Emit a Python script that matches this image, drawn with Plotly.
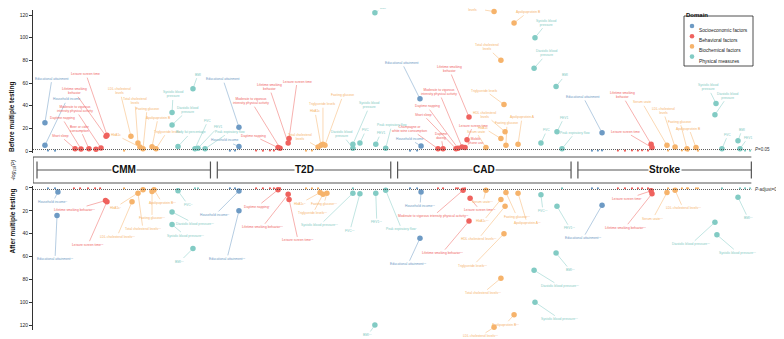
import plotly.graph_objects as go

W, H = 784, 339
PAGE_MARGIN = 8          # browser body margin around the figure

OUTCOMES = ["CMM", "T2D", "CAD", "Stroke"]
DOMAINS = ["Socioeconomic factors", "Behavioral factors", "Biochemical factors", "Physical measures"]
COLORS = ["#6D9AC4", "#EF625E", "#F6B36B", "#82CBC4"]
THRESHOLD = 1.3          # -log10(0.05)
Y_TICKS = [0, 20, 40, 60, 80, 100, 120]
BLOCK = 100              # each outcome occupies [100*i, 100*i + SPAN] on the x scale
SPAN = 96.2

# ---------------- Before multiple testing: (factor, domain, position, -log10 P)
cmm_before = [
    ("Educational attainment", 0, 4.4, 25), ("Household income", 0, 4.4, 5),
    ("Townsend deprivation index", 0, 6.1, 0.4), ("Occupation", 0, 10.0, 0.3),
    ("Short sleep", 1, 21.1, 2.0), ("Daytime napping", 1, 24.4, 1.8),
    ("Beer or cider consumption", 1, 28.8, 2.0), ("Alcohol intake frequency", 1, 32.7, 1.6),
    ("Moderate to vigorous intensity physical activity", 1, 35.5, 2.6),
    ("Lifetime smoking behavior", 1, 38.3, 13), ("Leisure screen time", 1, 38.8, 14),
    ("Serum urate", 2, 48.3, 0.3), ("LDL cholesterol levels", 2, 52.1, 13),
    ("Total cholesterol levels", 2, 56.0, 7), ("HbA1c", 2, 57.1, 3.5),
    ("Fasting glucose", 2, 58.8, 2.0), ("Apolipoprotein B", 2, 63.8, 3.8),
    ("Triglyceride levels", 2, 66.0, 2.0),
    ("Systolic blood pressure", 3, 74.9, 34), ("Diastolic blood pressure", 3, 74.9, 23),
    ("Body fat percentage", 3, 78.2, 4), ("BMI", 3, 86.5, 55), ("FVC", 3, 87.6, 2.0),
    ("FEV1", 3, 89.3, 2.5), ("Peak expiratory flow", 3, 93.2, 2.0),
]
t2d_before = [
    ("Occupation", 0, 7.0, 0.3), ("Townsend deprivation index", 0, 9.8, 0.4),
    ("Educational attainment", 0, 12.0, 21), ("Household income", 0, 12.0, 4),
    ("Short sleep", 1, 21.5, 0.4), ("Beer or cider consumption", 1, 25.3, 0.3),
    ("Snoring", 1, 29.2, 0.5), ("Sleep duration", 1, 31.4, 0.4),
    ("Daytime napping", 1, 33.7, 3), ("Moderate to vigorous intensity physical activity", 1, 34.8, 2.5),
    ("Lifetime smoking behavior", 1, 39.3, 7), ("Leisure screen time", 1, 39.8, 11),
    ("Serum urate", 2, 49.2, 0.3), ("LDL cholesterol levels", 2, 52.5, 0.4),
    ("Total cholesterol levels", 2, 55.9, 3.5), ("HbA1c", 2, 57.5, 5),
    ("Triglyceride levels", 2, 58.6, 6), ("Fasting glucose", 2, 59.7, 5),
    ("Diastolic blood pressure", 3, 75.2, 2.5), ("Systolic blood pressure", 3, 75.2, 6),
    ("FVC", 3, 79.1, 7), ("BMI", 3, 87.4, 122), ("FEV1", 3, 87.9, 6),
    ("Peak expiratory flow", 3, 93.4, 2.5),
]
cad_before = [
    ("Occupation", 0, 6.9, 0.3), ("Townsend deprivation index", 0, 10.8, 0.4),
    ("Educational attainment", 0, 12.4, 46), ("Household income", 0, 13.0, 4.5),
    ("Champagne or white wine consumption", 1, 22.4, 2), ("Daytime dozing", 1, 25.2, 2),
    ("Short sleep", 1, 32.4, 2), ("Daytime napping", 1, 33.5, 2.5),
    ("Moderate to vigorous intensity physical activity", 1, 35.7, 3.5),
    ("Mobile phone use", 1, 37.4, 3), ("Leisure screen time", 1, 38.5, 10),
    ("Lifetime smoking behavior", 1, 39.6, 30),
    ("Serum urate", 2, 49.0, 3), ("LDL cholesterol levels", 2, 53.5, 123),
    ("HbA1c", 2, 57.3, 11), ("Total cholesterol levels", 2, 57.3, 80),
    ("Triglyceride levels", 2, 59.0, 41), ("HDL cholesterol levels", 2, 59.6, 17),
    ("Fasting glucose", 2, 60.1, 5), ("Apolipoprotein B", 2, 64.6, 113),
    ("Apolipoprotein A", 2, 66.8, 6),
    ("Diastolic blood pressure", 3, 75.7, 73), ("Systolic blood pressure", 3, 76.2, 100),
    ("FVC", 3, 79.5, 7), ("BMI", 3, 87.9, 57), ("FEV1", 3, 88.4, 17),
    ("Peak expiratory flow", 3, 91.2, 2),
]
stroke_before = [
    ("Occupation", 0, 7.8, 0.3), ("Townsend deprivation index", 0, 11.1, 0.4),
    ("Household income", 0, 13.4, 0.5), ("Educational attainment", 0, 13.4, 16),
    ("Short sleep", 1, 22.2, 0.4), ("Daytime napping", 1, 26.1, 0.3),
    ("Beer or cider consumption", 1, 30.0, 0.5), ("Snoring", 1, 33.3, 0.4),
    ("Moderate to vigorous intensity physical activity", 1, 35.6, 0.6), ("Sleep duration", 1, 38.9, 0.4),
    ("Lifetime smoking behavior", 1, 40.6, 6), ("Leisure screen time", 1, 41.1, 3),
    ("Serum urate", 2, 49.4, 5), ("Total cholesterol levels", 2, 50.0, 0.4),
    ("LDL cholesterol levels", 2, 53.9, 3.5), ("HbA1c", 2, 57.7, 0.5),
    ("Fasting glucose", 2, 60.5, 2), ("Triglyceride levels", 2, 61.1, 0.4),
    ("Apolipoprotein B", 2, 65.5, 3), ("HDL cholesterol levels", 2, 66.6, 0.3),
    ("Diastolic blood pressure", 3, 76.0, 32), ("Systolic blood pressure", 3, 76.6, 42),
    ("FVC", 3, 79.9, 2), ("BMI", 3, 88.8, 9), ("FEV1", 3, 89.9, 2),
    ("Peak expiratory flow", 3, 92.7, 0.4), ("Body fat percentage", 3, 95.5, 0.3),
]

# ---------------- After multiple testing: (factor, domain, position, -log10 P-adjust, stars)
cmm_after = [
    ("Townsend deprivation index", 0, 6.1, 0.2, ""), ("Occupation", 0, 10.0, 0.2, ""),
    ("Household income", 0, 11.6, 3.5, "**"), ("Educational attainment", 0, 11.1, 24, "***"),
    ("Short sleep", 1, 20.5, 0.2, ""), ("Daytime napping", 1, 23.9, 0.2, ""),
    ("Beer or cider consumption", 1, 28.3, 0.2, ""), ("Alcohol intake frequency", 1, 32.2, 0.2, ""),
    ("Moderate to vigorous intensity physical activity", 1, 35.0, 0.2, ""),
    ("Lifetime smoking behavior", 1, 38.0, 11, "***"), ("Leisure screen time", 1, 38.8, 12, "***"),
    ("Serum urate", 2, 48.3, 0.2, ""), ("LDL cholesterol levels", 2, 52.7, 12, "***"),
    ("Total cholesterol levels", 2, 56.0, 4.5, "***"), ("HbA1c", 2, 58.8, 1.5, "*"),
    ("Fasting glucose", 2, 63.8, 3, "***"), ("Apolipoprotein B", 2, 64.9, 1.5, "***"),
    ("Diastolic blood pressure", 3, 74.9, 21, "***"), ("Systolic blood pressure", 3, 74.9, 32, "***"),
    ("FVC", 3, 78.2, 2.5, "**"), ("BMI", 3, 86.5, 53, "***"),
    ("FEV1", 3, 87.6, 0.2, ""), ("Peak expiratory flow", 3, 89.3, 0.2, ""),
]
t2d_after = [
    ("Occupation", 0, 7.0, 0.2, ""), ("Townsend deprivation index", 0, 9.8, 0.2, ""),
    ("Household income", 0, 12.0, 2.6, "**"), ("Educational attainment", 0, 12.0, 20, "***"),
    ("Short sleep", 1, 21.5, 0.2, ""), ("Beer or cider consumption", 1, 25.3, 0.2, ""),
    ("Snoring", 1, 29.2, 0.2, ""), ("Sleep duration", 1, 31.4, 0.2, ""),
    ("Daytime napping", 1, 33.7, 1.5, "*"),
    ("Moderate to vigorous intensity physical activity", 1, 34.8, 0.2, ""),
    ("Lifetime smoking behavior", 1, 39.3, 5.5, "***"), ("Leisure screen time", 1, 39.8, 10, "***"),
    ("Serum urate", 2, 49.2, 0.2, ""), ("LDL cholesterol levels", 2, 52.5, 0.2, ""),
    ("Total cholesterol levels", 2, 55.9, 0.2, ""), ("HbA1c", 2, 57.0, 4, "**"),
    ("Triglyceride levels", 2, 58.6, 5.5, "***"), ("Fasting glucose", 2, 60.8, 4.5, "***"),
    ("Systolic blood pressure", 3, 75.2, 4.5, "***"), ("Diastolic blood pressure", 3, 75.2, 0.2, ""),
    ("FVC", 3, 79.1, 5, "***"), ("FEV1", 3, 87.9, 4.5, "***"), ("BMI", 3, 87.4, 120, "***"),
    ("Peak expiratory flow", 3, 93.4, 2, "*"),
]
cad_after = [
    ("Occupation", 0, 6.9, 0.2, ""), ("Townsend deprivation index", 0, 10.8, 0.2, ""),
    ("Household income", 0, 13.0, 3.5, "***"), ("Educational attainment", 0, 12.4, 44, "***"),
    ("Champagne or white wine consumption", 1, 22.4, 0.2, ""), ("Daytime dozing", 1, 25.2, 0.2, ""),
    ("Short sleep", 1, 32.4, 0.2, ""), ("Daytime napping", 1, 33.5, 0.2, ""),
    ("Moderate to vigorous intensity physical activity", 1, 36.3, 2, "***"),
    ("Mobile phone use", 1, 37.4, 0.2, ""), ("Leisure screen time", 1, 40.2, 9, "***"),
    ("Lifetime smoking behavior", 1, 39.6, 29, "***"),
    ("Serum urate", 2, 49.0, 2, "***"), ("LDL cholesterol levels", 2, 53.5, 122, "***"),
    ("HbA1c", 2, 57.3, 10, "***"), ("Total cholesterol levels", 2, 57.3, 79, "***"),
    ("Triglyceride levels", 2, 59.0, 40, "***"), ("HDL cholesterol levels", 2, 59.6, 16, "***"),
    ("Fasting glucose", 2, 60.1, 4, "***"), ("Apolipoprotein B", 2, 64.6, 111, "***"),
    ("Apolipoprotein A", 2, 66.8, 4.5, "***"),
    ("Diastolic blood pressure", 3, 75.7, 72, "***"), ("Systolic blood pressure", 3, 76.2, 100, "***"),
    ("FVC", 3, 79.5, 6, "***"), ("BMI", 3, 87.9, 57, "***"), ("FEV1", 3, 88.4, 16, "***"),
    ("Peak expiratory flow", 3, 91.2, 0.2, ""),
]
stroke_after = [
    ("Occupation", 0, 7.8, 0.2, ""), ("Townsend deprivation index", 0, 11.1, 0.2, ""),
    ("Educational attainment", 0, 13.4, 15, "***"),
    ("Short sleep", 1, 22.2, 0.2, ""), ("Daytime napping", 1, 26.1, 0.2, ""),
    ("Beer or cider consumption", 1, 30.0, 0.2, ""), ("Snoring", 1, 33.3, 0.2, ""),
    ("Moderate to vigorous intensity physical activity", 1, 35.6, 0.2, ""), ("Sleep duration", 1, 38.9, 0.2, ""),
    ("Leisure screen time", 1, 40.6, 2.5, "*"), ("Lifetime smoking behavior", 1, 41.1, 5, "***"),
    ("Serum urate", 2, 49.4, 4, "***"), ("Total cholesterol levels", 2, 50.0, 0.2, ""),
    ("LDL cholesterol levels", 2, 53.9, 2, "***"), ("HbA1c", 2, 57.7, 0.2, ""),
    ("Fasting glucose", 2, 60.5, 0.2, ""), ("Triglyceride levels", 2, 61.1, 0.2, ""),
    ("Apolipoprotein B", 2, 65.5, 0.2, ""), ("HDL cholesterol levels", 2, 66.6, 0.2, ""),
    ("Diastolic blood pressure", 3, 76.0, 30, "***"), ("Systolic blood pressure", 3, 77.1, 41, "***"),
    ("FVC", 3, 79.9, 0.2, ""), ("BMI", 3, 88.8, 8, "***"), ("FEV1", 3, 89.9, 0.2, ""),
    ("Peak expiratory flow", 3, 92.7, 0.2, ""), ("Body fat percentage", 3, 95.5, 0.2, ""),
]

# ---------------- Label placement (pixel offsets of label from its point)
before_offsets = {
    "CMM": {"Educational attainment": (7, -44), "Household income": (22, -46), "Short sleep": (-15, -13),
            "Daytime napping": (-19, -31), "Beer or cider consumption": (-9, -20),
            "Moderate to vigorous intensity physical activity": (-26, -39),
            "Lifetime smoking behavior": (-32, -45), "Leisure screen time": (-21, -61),
            "LDL cholesterol levels": (-11, -45), "Total cholesterol levels": (-3, -42), "HbA1c": (-24, -12),
            "Fasting glucose": (4, -40), "Apolipoprotein B": (6, -29), "Triglyceride levels": (11, -17),
            "Systolic blood pressure": (1, -18), "Diastolic blood pressure": (16, -15),
            "Body fat percentage": (13, -14), "BMI": (5, -14), "FVC": (13, -28), "FEV1": (20, -21),
            "Peak expiratory flow": (25, -17)},
    "T2D": {"Educational attainment": (-16, -48), "Household income": (-14, -6), "Daytime napping": (-25, -12),
            "Moderate to vigorous intensity physical activity": (-29, -47),
            "Lifetime smoking behavior": (-19, -56), "Leisure screen time": (8, -57),
            "Total cholesterol levels": (-18, -10), "HbA1c": (-6, -34), "Triglyceride levels": (0, -40),
            "Fasting glucose": (18, -50), "Diastolic blood pressure": (-11, -14),
            "Systolic blood pressure": (17, -39), "FVC": (6, -13), "BMI": (8, -9), "FEV1": (5, -11),
            "Peak expiratory flow": (6, -23)},
    "CAD": {"Educational attainment": (-18, -36), "Household income": (-12, -7),
            "Champagne or white wine consumption": (-28, -20), "Daytime dozing": (-2, -13),
            "Short sleep": (-33, -34), "Daytime napping": (-31, -42),
            "Moderate to vigorous intensity physical activity": (-23, -55), "Mobile phone use": (11, -7),
            "Leisure screen time": (6, -14), "Lifetime smoking behavior": (-20, -48),
            "Serum urate": (-10, -16), "LDL cholesterol levels": (-22, -8), "HbA1c": (-18, -11),
            "Total cholesterol levels": (-14, -13), "Triglyceride levels": (-19, -14),
            "HDL cholesterol levels": (-20, -17), "Fasting glucose": (1, -22), "Apolipoprotein B": (14, -11),
            "Apolipoprotein A": (4, -27), "Diastolic blood pressure": (13, -15),
            "Systolic blood pressure": (12, -15), "FVC": (6, -13), "BMI": (9, -11), "FEV1": (7, -14),
            "Peak expiratory flow": (13, -16)},
    "Stroke": {"Educational attainment": (-19, -36), "Lifetime smoking behavior": (-29, -49),
               "Leisure screen time": (-27, -16), "Serum urate": (-25, -43), "LDL cholesterol levels": (-12, -36),
               "Fasting glucose": (-7, -27), "Apolipoprotein B": (-7, -19), "Systolic blood pressure": (-8, -16),
               "Diastolic blood pressure": (13, -19), "FVC": (6, -14), "BMI": (4, -11), "FEV1": (8, -11)},
}
after_offsets = {
    "CMM": {"Household income": (-5, 10), "Educational attainment": (-2, 44), "Lifetime smoking behavior": (-31, 9),
            "Leisure screen time": (-19, 43), "LDL cholesterol levels": (-15, 35),
            "Total cholesterol levels": (5, 36), "HbA1c": (-28, 18), "Fasting glucose": (0, 27),
            "Apolipoprotein B": (8, 13), "Diastolic blood pressure": (23, 12),
            "Systolic blood pressure": (13, 11), "FVC": (10, 14), "BMI": (-13, 13)},
    "T2D": {"Household income": (-24, 24), "Educational attainment": (-12, 48), "Daytime napping": (-21, 17),
            "Lifetime smoking behavior": (-26, 33), "Leisure screen time": (9, 41), "HbA1c": (-20, 11),
            "Triglyceride levels": (-10, 19), "Fasting glucose": (-3, 11),
            "Systolic blood pressure": (-33, 32), "FVC": (-10, 37), "FEV1": (1, 29),
            "Peak expiratory flow": (16, 39), "BMI": (-7, 10)},
    "CAD": {"Household income": (-1, 14), "Educational attainment": (-12, 26),
            "Moderate to vigorous intensity physical activity": (-30, 26), "Leisure screen time": (10, 12),
            "Lifetime smoking behavior": (-27, 32), "Serum urate": (-3, 12), "HbA1c": (-18, 22),
            "HDL cholesterol levels": (-27, 33), "Fasting glucose": (11, 24), "Apolipoprotein A": (9, 30),
            "Triglyceride levels": (-31, 32), "Total cholesterol levels": (-18, 15),
            "Apolipoprotein B": (-9, 10), "LDL cholesterol levels": (-14, 9), "FVC": (2, 16),
            "FEV1": (13, 22), "BMI": (14, 17), "Diastolic blood pressure": (26, 16),
            "Systolic blood pressure": (25, 17)},
    "Stroke": {"Educational attainment": (-19, 33), "Leisure screen time": (-24, 8),
               "Lifetime smoking behavior": (-27, 34), "Serum urate": (-14, 26), "LDL cholesterol levels": (8, 18),
               "Diastolic blood pressure": (-24, 22), "Systolic blood pressure": (21, 18), "BMI": (10, 21)},
}
WRAP = {
    "Moderate to vigorous intensity physical activity": "Moderate to vigorous<br>intensity physical activity",
    "Lifetime smoking behavior": "Lifetime smoking<br>behavior",
    "LDL cholesterol levels": "LDL cholesterol<br>levels",
    "HDL cholesterol levels": "HDL cholesterol<br>levels",
    "Total cholesterol levels": "Total cholesterol<br>levels",
    "Systolic blood pressure": "Systolic blood<br>pressure",
    "Diastolic blood pressure": "Diastolic blood<br>pressure",
    "Champagne or white wine consumption": "Champagne or<br>white wine consumption",
    "Beer or cider consumption": "Beer or cider<br>consumption",
    "Daytime dozing": "Daytime<br>dozing",
    "Mobile phone use": "Mobile<br>phone use",
}

FONT = "Liberation Sans, Arial, Helvetica, sans-serif"
INK = "#333333"
FW, FH = W - PAGE_MARGIN, H - PAGE_MARGIN   # figure size so it ends at the window edge


def px(xp):
    return (xp - PAGE_MARGIN) / FW


def py(yp):
    return 1 - (yp - PAGE_MARGIN) / FH


# Vertical layout (window pixels): top panel 0 at 151, bottom panel 0 at 188
Y_MAX = 124
TOP_SCALE, BOT_SCALE = 1.1333, 1.1417
top_dom = [py(151 + 2 * TOP_SCALE), py(151 - Y_MAX * TOP_SCALE)]
bot_dom = [py(188 + Y_MAX * BOT_SCALE), py(188 - 2 * BOT_SCALE)]
X_LO, X_HI = -2.22, 401.0
X_PX0, X_PX1 = 33, 760

fig = go.Figure()
annotations = []

panels = [
    ("y", [cmm_before, t2d_before, cad_before, stroke_before], before_offsets, False),
    ("y2", [cmm_after, t2d_after, cad_after, stroke_after], after_offsets, True),
]
for yref, tables, offsets, is_after in panels:
    for d in range(len(DOMAINS)):
        sx, sy, nx, ny = [], [], [], []
        for oi, table in enumerate(tables):
            for row in table:
                name, dom, pos, val = row[:4]
                if dom != d:
                    continue
                x = oi * BLOCK + pos
                sig = (row[4] != "") if is_after else (val > THRESHOLD)
                if sig:
                    sx.append(x)
                    sy.append(val)
                    off = offsets[OUTCOMES[oi]].get(name)
                    if off:
                        txt = f"{name}<sup>{row[4]}</sup>" if is_after else WRAP.get(name, name)
                        annotations.append(dict(
                            x=x, y=val, xref="x", yref=yref, ax=off[0], ay=off[1],
                            text=txt, showarrow=True, arrowhead=0, arrowwidth=0.5,
                            arrowcolor=COLORS[d], standoff=2.5,
                            font=dict(size=3.3, color=COLORS[d], family=FONT)))
                else:
                    nx.append(x)
                    ny.append(val)
        fig.add_trace(go.Scatter(x=nx, y=ny, yaxis=yref, mode="markers", cliponaxis=False,
                                 marker=dict(size=2.2, color=COLORS[d], line=dict(width=0)),
                                 showlegend=False, hoverinfo="skip"))
        fig.add_trace(go.Scatter(x=sx, y=sy, yaxis=yref, mode="markers", cliponaxis=False,
                                 marker=dict(size=5.5, color=COLORS[d], line=dict(width=0)),
                                 showlegend=False, hoverinfo="skip"))

shapes = []
# threshold lines
for yref in ("y", "y2"):
    shapes.append(dict(type="line", xref="x", yref=yref, x0=X_LO, x1=3 * BLOCK + SPAN,
                       y0=THRESHOLD, y1=THRESHOLD, line=dict(color=INK, width=0.8, dash="1px,1px")))
annotations.append(dict(x=px(753), y=THRESHOLD, xref="paper", yref="y", xanchor="left", showarrow=False,
                        text="<i>P</i>=0.05", font=dict(size=4.5, color=INK, family=FONT)))
annotations.append(dict(x=px(753), y=THRESHOLD, xref="paper", yref="y2", xanchor="left", showarrow=False,
                        text="<i>P</i>-adjust=0.05", font=dict(size=4.5, color=INK, family=FONT)))

# middle box with outcome brackets
BOX_COL = "#555555"
shapes.append(dict(type="line", xref="x", yref="paper", x0=X_LO, x1=3 * BLOCK + SPAN, y0=py(157), y1=py(157),
                   line=dict(color=BOX_COL, width=1.2)))
shapes.append(dict(type="line", xref="x", yref="paper", x0=X_LO, x1=3 * BLOCK + SPAN, y0=py(183), y1=py(183),
                   line=dict(color=BOX_COL, width=1.2)))
shapes.append(dict(type="line", xref="x", yref="paper", x0=X_LO, x1=X_LO, y0=py(157), y1=py(183),
                   line=dict(color=BOX_COL, width=1.2)))
for oi, outcome in enumerate(OUTCOMES):
    x0, x1 = oi * BLOCK, oi * BLOCK + SPAN
    shapes.append(dict(type="line", xref="x", yref="paper", x0=x0, x1=x1, y0=py(170), y1=py(170),
                       line=dict(color=BOX_COL, width=1)))
    for xc in (x0, x1):
        shapes.append(dict(type="line", xref="x", yref="paper", x0=xc, x1=xc, y0=py(161.5), y1=py(178.5),
                           line=dict(color=BOX_COL, width=1.2)))
    annotations.append(dict(x=(x0 + x1) / 2, y=py(170), xref="x", yref="paper", showarrow=False,
                            text=f"<b>{outcome}</b>", bgcolor="white", borderpad=0,
                            font=dict(size=10, color="#111111", family=FONT)))

# axis titles
annotations.append(dict(x=px(6), y=py(80), xref="paper", yref="paper", showarrow=False, textangle=-90,
                        text="<b>Before multiple testing</b>", font=dict(size=6.5, color="#111111", family=FONT)))
annotations.append(dict(x=px(6), y=py(256), xref="paper", yref="paper", showarrow=False, textangle=-90,
                        text="<b>After multiple testing</b>", font=dict(size=6.5, color="#111111", family=FONT)))
annotations.append(dict(x=px(8), y=py(170), xref="paper", yref="paper", showarrow=False, textangle=-90,
                        text="<i>-log<sub>10</sub>(P)</i>", font=dict(size=5.5, color="#111111", family=FONT)))

# domain legend
shapes.append(dict(type="rect", xref="paper", yref="paper", x0=px(684), x1=px(753), y0=py(66), y1=py(16),
                   line=dict(color="#222222", width=0.8)))
annotations.append(dict(x=px(684), y=py(10), xref="paper", yref="paper", xanchor="left", showarrow=False,
                        text="<b>Domain</b>", font=dict(size=6, color="#111111", family=FONT)))
for i, (dom, col) in enumerate(zip(DOMAINS, COLORS)):
    yc = 26 + i * 10.2
    r = 2.3
    shapes.append(dict(type="circle", xref="paper", yref="paper", x0=px(692 - r), x1=px(692 + r),
                       y0=py(yc + r), y1=py(yc - r), fillcolor=col, line=dict(width=0)))
    annotations.append(dict(x=px(697), y=py(yc), xref="paper", yref="paper", xanchor="left", showarrow=False,
                            text=dom, font=dict(size=4.8, color="#222222", family=FONT)))

yax = dict(range=[-2, Y_MAX], tickvals=Y_TICKS, showline=True, linecolor=INK, linewidth=1,
           ticks="outside", ticklen=3, tickwidth=0.8, tickcolor=INK, showgrid=False, zeroline=False,
           tickfont=dict(size=5, color="#222222", family=FONT), anchor="x", fixedrange=True)
fig.update_layout(
    width=FW, height=FH, margin=dict(l=0, r=0, t=0, b=0),
    paper_bgcolor="white", plot_bgcolor="white", showlegend=False,
    font=dict(family=FONT),
    xaxis=dict(domain=[px(X_PX0), px(X_PX1)], range=[X_LO, X_HI], visible=False, fixedrange=True),
    yaxis=dict(domain=top_dom, **yax),
    yaxis2=dict(domain=bot_dom, **{**yax, "range": [Y_MAX, -2]}),
    shapes=shapes, annotations=annotations,
)
fig.write_html("out.html")
